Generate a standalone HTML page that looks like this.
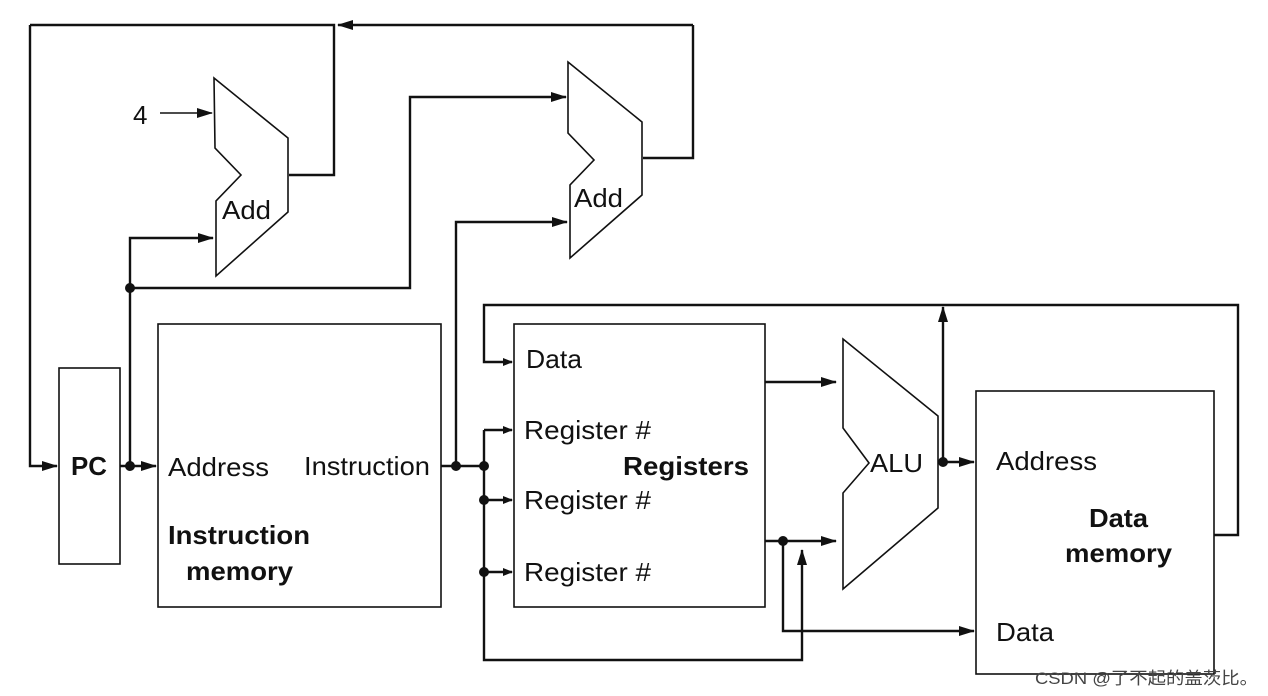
<!DOCTYPE html>
<html><head><meta charset="utf-8"><style>
html,body{margin:0;padding:0;background:#fff;}
svg{display:block;}
text{font-family:"Liberation Sans","Noto Sans CJK SC",sans-serif;fill:#111;}
</style></head><body>
<svg width="1268" height="696" viewBox="0 0 1268 696" xmlns="http://www.w3.org/2000/svg">
<defs>
<marker id="a" markerWidth="10" markerHeight="8" refX="9" refY="4" orient="auto" markerUnits="userSpaceOnUse">
<path d="M0,0 L10,4 L0,8 z" fill="#111"/>
</marker>
<marker id="b" markerWidth="16" markerHeight="10" refX="15" refY="5" orient="auto" markerUnits="userSpaceOnUse">
<path d="M0,0 L16,5 L0,10 z" fill="#111"/>
</marker>
</defs>
<g fill="none" stroke="#111" stroke-width="1.6">
<rect x="59" y="368" width="61" height="196"/>
<rect x="158" y="324" width="283" height="283"/>
<rect x="514" y="324" width="251" height="283"/>
<rect x="976" y="391" width="238" height="283"/>
<polygon points="214,78 288,138 288,212 216,276 216,201 241,175 215,148"/>
<polygon points="568,62 642,122 642,195 570,258 570,185 594,160 568,133"/>
<polygon points="843,339 938,416 938,508 843,589 843,493 869,463 843,428"/>
</g>
<g fill="none" stroke="#111" stroke-width="2.4">
<polyline points="30,25 334,25 334,175 289,175"/>
<polyline points="693,25 338,25" marker-end="url(#b)"/>
<polyline points="693,25 693,158 643,158"/>
<polyline points="30,25 30,466 57,466" marker-end="url(#b)"/>
<line x1="160" y1="113" x2="212" y2="113" stroke-width="1.6" marker-end="url(#b)"/>
<polyline points="120,466 156,466" marker-end="url(#b)"/>
<polyline points="130,466 130,238 213,238" marker-end="url(#b)"/>
<polyline points="130,288 410,288 410,97 566,97" marker-end="url(#b)"/>
<polyline points="441,466 484,466"/>
<polyline points="456,466 456,222 567,222" marker-end="url(#b)"/>
<polyline points="484,430 484,660 802,660 802,550" marker-end="url(#b)"/>
<polyline points="484,430 512,430" marker-end="url(#a)"/>
<polyline points="484,500 512,500" marker-end="url(#a)"/>
<polyline points="484,572 512,572" marker-end="url(#a)"/>
<polyline points="1214,535 1238,535 1238,305 484,305 484,362 512,362" marker-end="url(#a)"/>
<polyline points="765,382 836,382" marker-end="url(#b)"/>
<polyline points="765,541 836,541" marker-end="url(#b)"/>
<polyline points="783,541 783,631 974,631" marker-end="url(#b)"/>
<polyline points="938,462 974,462" marker-end="url(#b)"/>
<polyline points="943,462 943,307" marker-end="url(#b)"/>
</g>
<g fill="#111">
<circle cx="130" cy="466" r="5"/><circle cx="130" cy="288" r="5"/>
<circle cx="456" cy="466" r="5"/><circle cx="484" cy="466" r="5"/>
<circle cx="484" cy="500" r="5"/><circle cx="484" cy="572" r="5"/>
<circle cx="783" cy="541" r="5"/><circle cx="943" cy="462" r="5"/>
</g>
<g font-size="26">
<text x="133" y="124">4</text>
<text x="222" y="219" textLength="49" lengthAdjust="spacingAndGlyphs">Add</text>
<text x="574" y="207" textLength="49" lengthAdjust="spacingAndGlyphs">Add</text>
<text x="71" y="475" font-weight="bold" textLength="36" lengthAdjust="spacingAndGlyphs">PC</text>
<text x="168" y="476" textLength="101" lengthAdjust="spacingAndGlyphs">Address</text>
<text x="304" y="475" textLength="126" lengthAdjust="spacingAndGlyphs">Instruction</text>
<text x="168" y="544" font-weight="bold" textLength="142" lengthAdjust="spacingAndGlyphs">Instruction</text>
<text x="186" y="580" font-weight="bold" textLength="107" lengthAdjust="spacingAndGlyphs">memory</text>
<text x="526" y="368" textLength="56" lengthAdjust="spacingAndGlyphs">Data</text>
<text x="524" y="439" textLength="127" lengthAdjust="spacingAndGlyphs">Register #</text>
<text x="524" y="509" textLength="127" lengthAdjust="spacingAndGlyphs">Register #</text>
<text x="524" y="581" textLength="127" lengthAdjust="spacingAndGlyphs">Register #</text>
<text x="623" y="475" font-weight="bold" textLength="126" lengthAdjust="spacingAndGlyphs">Registers</text>
<text x="870" y="472" textLength="53" lengthAdjust="spacingAndGlyphs">ALU</text>
<text x="996" y="470" textLength="101" lengthAdjust="spacingAndGlyphs">Address</text>
<text x="1089" y="527" font-weight="bold" textLength="59" lengthAdjust="spacingAndGlyphs">Data</text>
<text x="1065" y="562" font-weight="bold" textLength="107" lengthAdjust="spacingAndGlyphs">memory</text>
<text x="996" y="641" textLength="58" lengthAdjust="spacingAndGlyphs">Data</text>
</g>
<text x="1035" y="684" font-size="17" style="fill:#444" textLength="223" lengthAdjust="spacingAndGlyphs">CSDN @了不起的盖茨比。</text>
</svg>
</body></html>
